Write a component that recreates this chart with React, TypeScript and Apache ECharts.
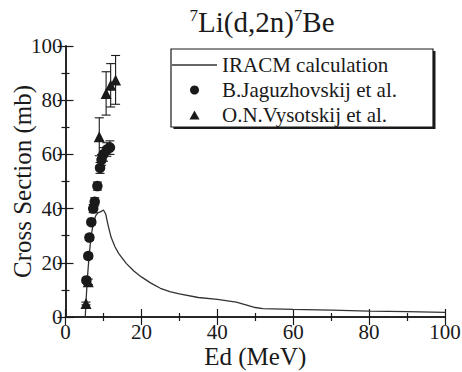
import React, { useEffect, useRef } from "react";
import * as echarts from "echarts";

const calcX = [5.2, 5.5, 5.8, 6.2, 6.6, 7.0, 7.5, 8.0, 8.6, 9.2, 10.0, 10.6, 11.2, 12.0, 13.0, 14.0, 16.0, 18.0, 20.0, 22.5, 25.0, 27.5, 30.0, 35.0, 40.0, 45.0, 48.0, 50.0, 52.0, 60.0, 70.0, 80.0, 90.0, 100.0];
const calcY = [0, 8, 15, 22, 28, 32, 35.5, 37.5, 38.5, 38.8, 39.5, 38, 34, 29.5, 26, 23.5, 19.8, 17, 14.8, 12.5, 10.6, 9.4, 8.5, 7.2, 6.5, 5.5, 4.3, 3.5, 3.1, 2.8, 2.5, 2.2, 2.0, 1.7];

const jagX = [5.5, 6.0, 6.3, 6.8, 7.3, 7.7, 8.4, 9.1, 9.5, 10.0, 10.9, 11.7];
const jagY = [13.5, 22.5, 29.3, 35.0, 40.0, 42.5, 48.3, 55.0, 58.0, 60.0, 61.8, 62.5];
const jagErr = [1, 1, 1, 1, 1.5, 1.5, 1.5, 2, 2, 2.5, 2.5, 2.5];

const vysX = [5.4, 6.0, 8.9, 10.7, 11.9, 13.2];
const vysY = [5.0, 13.0, 66.5, 82.5, 85.5, 87.5];
const vysErr = [0.5, 1, 7, 8, 8, 9];

const xTicks = [0, 20, 40, 60, 80, 100];
const yTicks = [0, 20, 40, 60, 80, 100];

const FONT = "Liberation Serif";
const INK = "#1a1a1a";

export default function App() {
  const ref = useRef<HTMLDivElement>(null);
  useEffect(() => {
    if (!ref.current) return;
    const chart = echarts.init(ref.current, null, { renderer: "svg" });

    const errData: number[][] = [];
    jagX.forEach((x, i) => errData.push([x, jagY[i] - jagErr[i], jagY[i] + jagErr[i]]));
    vysX.forEach((x, i) => errData.push([x, vysY[i] - vysErr[i], vysY[i] + vysErr[i]]));

    const axisCommon = {
      min: xTicks[0],
      max: xTicks[xTicks.length - 1],
      interval: 20,
      axisLine: { show: true, lineStyle: { color: INK, width: 1.5 } },
      axisTick: { show: true, inside: true, length: 8, lineStyle: { color: INK, width: 1.2 } },
      minorTick: { show: true, splitNumber: 2, length: 4, lineStyle: { color: INK, width: 1.2 } },
      splitLine: { show: false },
    };
    const yCommon = { ...axisCommon, min: yTicks[0], max: yTicks[yTicks.length - 1] };

    chart.setOption({
      animation: false,
      backgroundColor: "#fff",
      textStyle: { fontFamily: FONT },
      title: {
        text: "{s|7}{n|Li(d,2n)}{s|7}{n|Be}",
        left: 257,
        top: 2,
        textAlign: "center",
        textStyle: {
          fontFamily: FONT,
          rich: {
            n: { fontFamily: FONT, fontSize: 29, color: INK, fontWeight: "normal" },
            s: { fontFamily: FONT, fontSize: 17, color: INK, verticalAlign: "top", fontWeight: "normal" },
          },
        },
      },
      grid: { left: 65.5, right: 17, top: 46, bottom: 55, containLabel: false, outerBoundsMode: "none" },
      xAxis: [
        {
          ...axisCommon,
          type: "value",
          position: "bottom",
          name: "Ed (MeV)",
          nameLocation: "middle",
          nameGap: 27,
          nameMoveOverlap: false,
          nameTextStyle: { fontFamily: FONT, fontSize: 25, color: INK },
          axisLabel: { fontFamily: FONT, fontSize: 21, color: INK, margin: 4 },
        },
        {
          ...axisCommon,
          type: "value",
          position: "top",
          axisLabel: { show: false },
        },
      ],
      yAxis: [
        {
          ...yCommon,
          type: "value",
          position: "left",
          name: "Cross Section (mb)",
          nameLocation: "middle",
          nameGap: 31,
          nameMoveOverlap: false,
          nameTextStyle: { fontFamily: FONT, fontSize: 25, color: INK },
          axisLabel: { fontFamily: FONT, fontSize: 21, color: INK, margin: 3 },
        },
        {
          ...yCommon,
          type: "value",
          position: "right",
          axisLabel: { show: false },
        },
      ],
      legend: {
        data: [
          { name: "IRACM calculation", icon: "path://M0,0L45,0L45,1.3L0,1.3Z" },
          { name: "B.Jaguzhovskij et al.", icon: "circle" },
          { name: "O.N.Vysotskij et al.", icon: "path://M5,0L10,9L0,9Z" },
        ],
        orient: "vertical",
        left: 172,
        top: 53,
        padding: 0,
        itemWidth: 45,
        itemHeight: 9,
        itemGap: 1,
        symbolKeepAspect: true,
        textStyle: { fontFamily: FONT, fontSize: 21, color: INK, lineHeight: 24 },
      },
      graphic: [
        { type: "rect", z: 0, shape: { x: 173.5, y: 51, width: 262, height: 78 }, style: { fill: INK } },
        { type: "rect", z: 0, shape: { x: 171, y: 49, width: 262, height: 78 }, style: { fill: "#fff", stroke: INK, lineWidth: 1.2 } },
      ],
      series: [
        {
          name: "IRACM calculation",
          type: "line",
          data: calcX.map((x, i) => [x, calcY[i]]),
          symbol: "none",
          lineStyle: { color: "#333", width: 1.3 },
          itemStyle: { color: "#333" },
          z: 3,
        },
        {
          name: "errbars",
          type: "custom",
          data: errData,
          z: 4,
          renderItem: (params: any, api: any) => {
            const x = api.value(0);
            const lo = api.coord([x, api.value(1)]);
            const hi = api.coord([x, api.value(2)]);
            const w = 4.5;
            const st = { stroke: INK, lineWidth: 1.1 };
            return {
              type: "group",
              children: [
                { type: "line", shape: { x1: lo[0], y1: lo[1], x2: hi[0], y2: hi[1] }, style: st },
                { type: "line", shape: { x1: lo[0] - w, y1: lo[1], x2: lo[0] + w, y2: lo[1] }, style: st },
                { type: "line", shape: { x1: hi[0] - w, y1: hi[1], x2: hi[0] + w, y2: hi[1] }, style: st },
              ],
            };
          },
        },
        {
          name: "B.Jaguzhovskij et al.",
          type: "scatter",
          data: jagX.map((x, i) => [x, jagY[i]]),
          symbol: "circle",
          symbolSize: 10.5,
          itemStyle: { color: INK, opacity: 1 },
          z: 5,
        },
        {
          name: "O.N.Vysotskij et al.",
          type: "scatter",
          data: vysX.map((x, i) => [x, vysY[i]]),
          symbol: "triangle",
          symbolSize: 11,
          itemStyle: { color: INK, opacity: 1 },
          z: 5,
        },
      ],
    });
    return () => chart.dispose();
  }, []);
  return <div ref={ref} style={{ position: "fixed", left: 0, top: 0, width: 462, height: 372 }} />;
}
